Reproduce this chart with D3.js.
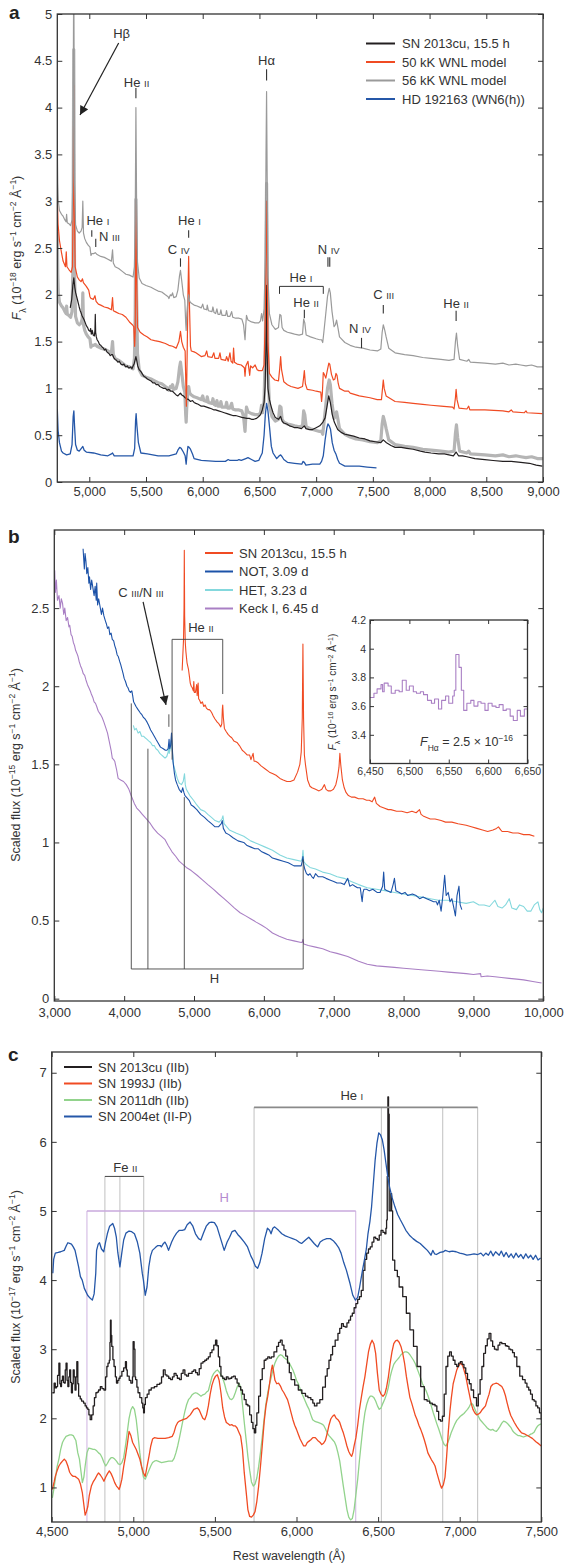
<!DOCTYPE html>
<html>
<head>
<meta charset="utf-8">
<script src="https://cdn.jsdelivr.net/npm/d3@7"></script>
<style>
  body { margin: 0; background: #fff; }
</style>
</head>
<body>
<div id="chart"></div>
<script>
// ---------- panel a : SN 2013cu, 15.5 h vs WNL models ----------
const sn2013cuEarly = [[4832,1.86],[4845,1.95],[4855,2.1],[4864,2.18],[4872,2.08],[4880,2.02],[4895,1.95],[4905,1.9],[4911,1.87],[4920,1.83],[4927,1.81],[4935,1.78],[4943,1.76],[4955,1.73],[4965,1.7],[4974,1.67],[4985,1.65],[4995,1.62],[5006,1.61],[5012,1.64],[5018,1.58],[5026,1.62],[5035,1.57],[5045,1.56],[5050,1.62],[5053,1.79],[5056,1.6],[5062,1.55],[5069,1.52],[5080,1.5],[5090,1.47],[5101,1.46],[5115,1.44],[5125,1.43],[5133,1.41],[5145,1.42],[5155,1.39],[5164,1.38],[5175,1.37],[5185,1.35],[5195,1.36],[5205,1.36],[5215,1.33],[5228,1.31],[5240,1.3],[5252,1.28],[5265,1.29],[5278,1.26],[5291,1.25],[5305,1.26],[5315,1.24],[5323,1.23],[5335,1.24],[5345,1.22],[5354,1.22],[5365,1.23],[5376,1.21],[5386,1.24],[5395,1.26],[5405,1.31],[5411,1.34],[5418,1.3],[5427,1.24],[5440,1.2],[5455,1.18],[5470,1.15],[5481,1.13],[5495,1.12],[5512,1.1],[5528,1.09],[5544,1.08],[5560,1.06],[5576,1.06],[5590,1.04],[5607,1.04],[5622,1.02],[5639,1.01],[5655,1.0],[5671,1.0],[5687,0.98],[5702,0.99],[5718,0.97],[5734,0.97],[5750,0.95],[5766,0.93],[5781,0.92],[5795,0.94],[5804,0.95],[5815,0.93],[5829,0.92],[5845,0.9],[5860,0.89],[5876,0.88],[5892,0.86],[5910,0.87],[5924,0.85],[5940,0.84],[5960,0.83],[5987,0.81],[6010,0.81],[6035,0.8],[6060,0.79],[6082,0.78],[6100,0.77],[6114,0.77],[6140,0.76],[6165,0.75],[6190,0.74],[6215,0.73],[6240,0.72],[6265,0.71],[6290,0.71],[6319,0.7],[6345,0.69],[6367,0.685],[6390,0.68],[6410,0.68],[6430,0.67],[6450,0.67],[6475,0.68],[6494,0.7],[6510,0.72],[6525,0.77],[6541,0.85],[6550,1.02],[6557,1.4],[6563,2.1],[6568,1.4],[6575,1.0],[6588,0.88],[6605,0.8],[6620,0.74],[6640,0.69],[6668,0.67],[6687,0.7],[6700,0.65],[6715,0.63],[6740,0.62],[6765,0.6],[6790,0.59],[6810,0.58],[6840,0.58],[6870,0.57],[6896,0.6],[6910,0.57],[6940,0.56],[6968,0.56],[7000,0.58],[7032,0.6],[7060,0.64],[7079,0.685],[7095,0.8],[7111,0.92],[7125,0.85],[7142,0.72],[7160,0.64],[7190,0.56],[7220,0.53],[7253,0.51],[7290,0.5],[7330,0.49],[7380,0.47],[7430,0.46],[7475,0.44],[7520,0.43],[7570,0.42],[7592,0.45],[7620,0.42],[7660,0.39],[7696,0.37],[7750,0.37],[7800,0.36],[7855,0.35],[7920,0.33],[7960,0.32],[8013,0.31],[8080,0.3],[8130,0.3],[8171,0.29],[8210,0.28],[8234,0.32],[8255,0.28],[8290,0.28],[8329,0.27],[8400,0.25],[8487,0.24],[8560,0.23],[8646,0.22],[8720,0.22],[8804,0.21],[8880,0.2],[8940,0.18],[8994,0.17]];

const wnl56 = [[4718,3.65],[4722,3.2],[4727,3.0],[4737,2.9],[4755,2.86],[4769,2.84],[4785,2.8],[4795,2.78],[4800,2.86],[4806,2.77],[4820,2.76],[4835,2.74],[4848,2.8],[4856,3.3],[4863,5.6],[4870,3.2],[4879,2.75],[4895,2.68],[4911,2.66],[4927,2.68],[4937,2.72],[4943,3.0],[4949,2.66],[4960,2.6],[4974,2.56],[4990,2.53],[5006,2.51],[5015,2.42],[5022,2.44],[5038,2.44],[5053,2.45],[5069,2.43],[5101,2.41],[5133,2.4],[5164,2.38],[5195,2.36],[5205,2.48],[5212,2.34],[5228,2.3],[5259,2.28],[5291,2.25],[5323,2.22],[5354,2.21],[5386,2.19],[5398,2.3],[5405,2.8],[5411,4.0],[5417,3.0],[5425,2.35],[5440,2.18],[5465,2.12],[5500,2.1],[5544,2.08],[5576,2.06],[5607,2.04],[5639,2.03],[5671,2.0],[5695,1.98],[5702,1.96],[5715,2.0],[5725,1.99],[5734,2.02],[5745,1.97],[5766,1.98],[5781,2.05],[5795,2.2],[5804,2.26],[5815,2.15],[5829,2.0],[5842,1.94],[5850,1.7],[5854,1.62],[5860,1.8],[5870,1.95],[5876,2.0],[5885,1.93],[5900,1.91],[5924,1.89],[5950,1.88],[5987,1.86],[6000,1.9],[6010,1.85],[6035,1.84],[6040,1.89],[6050,1.83],[6082,1.82],[6090,1.87],[6100,1.81],[6114,1.8],[6125,1.85],[6135,1.79],[6152,1.79],[6160,1.84],[6170,1.78],[6202,1.78],[6210,1.83],[6220,1.77],[6240,1.77],[6255,1.82],[6265,1.76],[6290,1.75],[6320,1.75],[6345,1.74],[6360,1.68],[6373,1.52],[6380,1.68],[6386,1.78],[6399,1.73],[6430,1.71],[6462,1.7],[6494,1.7],[6509,1.72],[6519,1.8],[6528,1.72],[6541,1.85],[6552,2.4],[6558,3.5],[6563,4.17],[6568,3.3],[6575,2.2],[6588,1.8],[6610,1.68],[6640,1.63],[6668,1.65],[6680,1.79],[6690,1.78],[6700,1.65],[6715,1.62],[6747,1.6],[6778,1.59],[6810,1.58],[6850,1.57],[6880,1.58],[6890,1.74],[6900,1.7],[6912,1.57],[6950,1.55],[7000,1.53],[7030,1.52],[7048,1.52],[7058,1.49],[7068,1.6],[7085,1.8],[7100,1.98],[7115,2.07],[7125,2.02],[7140,1.82],[7158,1.66],[7170,1.68],[7180,1.73],[7192,1.65],[7206,1.55],[7253,1.49],[7300,1.46],[7350,1.44],[7411,1.43],[7475,1.41],[7540,1.4],[7570,1.42],[7582,1.6],[7592,1.68],[7605,1.62],[7617,1.55],[7640,1.43],[7696,1.38],[7780,1.36],[7855,1.35],[7940,1.33],[8013,1.32],[8100,1.31],[8171,1.3],[8216,1.31],[8228,1.5],[8237,1.59],[8248,1.45],[8265,1.31],[8329,1.29],[8345,1.31],[8360,1.28],[8487,1.27],[8580,1.26],[8646,1.27],[8700,1.25],[8760,1.26],[8804,1.25],[8850,1.24],[8900,1.25],[8950,1.23],[9000,1.23]];
// the 56 kK model is shown twice: offset for clarity and scaled under the data
const wnl56Offset = 0.98;

const wnl50 = [[4718,3.05],[4725,2.75],[4737,2.58],[4755,2.45],[4769,2.36],[4790,2.3],[4797,2.46],[4803,2.3],[4820,2.27],[4840,2.24],[4852,2.3],[4858,3.0],[4863,4.24],[4868,3.0],[4875,2.3],[4895,2.19],[4911,2.16],[4927,2.14],[4940,2.17],[4948,2.13],[4974,2.09],[4995,2.05],[5006,1.98],[5015,1.96],[5022,1.96],[5035,1.95],[5050,1.99],[5060,1.93],[5080,1.9],[5101,1.89],[5133,1.87],[5164,1.86],[5195,1.84],[5205,1.97],[5212,1.83],[5228,1.82],[5260,1.8],[5291,1.79],[5323,1.76],[5354,1.71],[5380,1.68],[5392,1.66],[5400,1.45],[5405,1.6],[5411,3.1],[5417,2.2],[5425,1.65],[5449,1.6],[5481,1.57],[5512,1.55],[5544,1.52],[5576,1.51],[5620,1.5],[5671,1.48],[5702,1.46],[5734,1.45],[5766,1.43],[5790,1.5],[5804,1.61],[5815,1.5],[5829,1.44],[5845,1.4],[5852,1.0],[5856,0.81],[5862,1.3],[5870,2.0],[5876,2.41],[5883,1.9],[5892,1.45],[5899,1.4],[5924,1.39],[5940,1.38],[5987,1.34],[6020,1.35],[6035,1.4],[6045,1.34],[6082,1.33],[6098,1.38],[6108,1.32],[6140,1.32],[6152,1.38],[6162,1.31],[6202,1.3],[6210,1.34],[6225,1.29],[6240,1.38],[6250,1.29],[6265,1.27],[6272,1.43],[6280,1.28],[6304,1.26],[6340,1.25],[6367,1.22],[6373,1.13],[6380,1.24],[6399,1.29],[6406,1.22],[6414,1.14],[6422,1.24],[6440,1.22],[6462,1.25],[6480,1.2],[6494,1.19],[6525,1.19],[6541,1.25],[6552,1.8],[6558,2.6],[6563,3.0],[6568,2.4],[6575,1.5],[6588,1.16],[6610,1.12],[6636,1.09],[6668,1.08],[6678,1.2],[6687,1.34],[6695,1.2],[6715,1.07],[6747,1.04],[6778,1.02],[6840,1.0],[6880,1.02],[6890,1.12],[6896,1.19],[6905,1.05],[6921,0.99],[6968,0.98],[7000,0.97],[7041,0.96],[7048,0.86],[7055,0.95],[7063,1.17],[7072,1.15],[7085,1.11],[7100,1.2],[7112,1.27],[7120,1.26],[7135,1.15],[7152,1.09],[7165,1.1],[7175,1.16],[7184,1.14],[7195,1.05],[7206,1.0],[7253,0.97],[7285,0.97],[7300,0.95],[7380,0.92],[7475,0.9],[7538,0.88],[7576,0.88],[7585,1.0],[7592,1.09],[7600,1.0],[7617,0.92],[7696,0.86],[7780,0.85],[7855,0.84],[7940,0.83],[8013,0.82],[8100,0.81],[8203,0.8],[8216,0.78],[8228,0.9],[8234,0.99],[8242,0.88],[8260,0.79],[8329,0.78],[8345,0.81],[8355,0.77],[8487,0.77],[8646,0.76],[8700,0.75],[8720,0.77],[8735,0.75],[8836,0.74],[8850,0.76],[8860,0.74],[8994,0.73]];

const hd192163 = [[4718,0.78],[4725,0.55],[4737,0.42],[4755,0.33],[4769,0.31],[4800,0.29],[4832,0.3],[4848,0.4],[4858,0.7],[4864,0.76],[4870,0.6],[4879,0.4],[4895,0.34],[4911,0.33],[4930,0.36],[4943,0.38],[4955,0.34],[4974,0.32],[5038,0.31],[5101,0.29],[5164,0.28],[5195,0.3],[5205,0.31],[5220,0.28],[5259,0.28],[5323,0.28],[5386,0.28],[5400,0.36],[5408,0.65],[5413,0.73],[5420,0.6],[5433,0.42],[5455,0.31],[5512,0.3],[5607,0.28],[5702,0.28],[5766,0.3],[5781,0.34],[5797,0.37],[5810,0.36],[5829,0.32],[5845,0.28],[5854,0.19],[5862,0.3],[5870,0.38],[5880,0.37],[5892,0.35],[5910,0.3],[5924,0.25],[5987,0.23],[6114,0.22],[6200,0.22],[6225,0.24],[6240,0.23],[6304,0.23],[6319,0.24],[6340,0.23],[6380,0.25],[6399,0.26],[6430,0.24],[6462,0.22],[6494,0.23],[6509,0.27],[6525,0.31],[6541,0.5],[6552,0.72],[6563,0.84],[6575,0.76],[6588,0.6],[6605,0.38],[6620,0.31],[6652,0.25],[6675,0.28],[6687,0.29],[6700,0.27],[6715,0.24],[6747,0.21],[6810,0.2],[6873,0.19],[6885,0.22],[6896,0.21],[6910,0.18],[6968,0.19],[7032,0.19],[7048,0.22],[7063,0.28],[7079,0.45],[7095,0.58],[7104,0.62],[7115,0.6],[7127,0.56],[7142,0.42],[7158,0.34],[7174,0.3],[7190,0.24],[7206,0.2],[7253,0.17],[7300,0.17],[7380,0.17],[7450,0.16],[7532,0.15]];

// ---------- panel b : spectral sequence ----------
const bSN2013cu = [[4830,2.1],[4850,2.3],[4857,2.5],[4861,2.87],[4866,2.45],[4875,2.28],[4884,2.22],[4900,2.15],[4920,2.11],[4935,2.06],[4946,2.02],[4960,2.0],[4975,1.99],[4990,1.97],[4997,2.03],[5005,1.96],[5020,1.96],[5038,2.01],[5045,1.94],[5059,2.02],[5066,1.92],[5080,1.91],[5100,1.89],[5120,1.9],[5140,1.87],[5160,1.88],[5177,1.86],[5200,1.85],[5220,1.85],[5240,1.84],[5254,1.83],[5275,1.81],[5300,1.79],[5332,1.77],[5355,1.76],[5383,1.74],[5398,1.76],[5405,1.85],[5411,1.88],[5420,1.8],[5435,1.73],[5460,1.71],[5490,1.69],[5512,1.68],[5540,1.67],[5570,1.65],[5615,1.64],[5650,1.62],[5690,1.59],[5718,1.58],[5760,1.56],[5795,1.56],[5815,1.53],[5846,1.57],[5860,1.52],[5880,1.52],[5917,1.51],[5960,1.49],[6020,1.47],[6080,1.45],[6130,1.44],[6174,1.43],[6230,1.41],[6277,1.4],[6330,1.39],[6380,1.39],[6431,1.4],[6482,1.45],[6515,1.5],[6535,1.58],[6550,1.8],[6559,2.27],[6568,1.8],[6580,1.56],[6595,1.5],[6626,1.4],[6660,1.36],[6688,1.35],[6740,1.34],[6790,1.33],[6830,1.34],[6867,1.37],[6890,1.34],[6919,1.33],[6960,1.33],[6996,1.34],[7030,1.37],[7055,1.42],[7075,1.48],[7088,1.57],[7100,1.5],[7124,1.4],[7150,1.35],[7176,1.32],[7210,1.3],[7253,1.29],[7300,1.29],[7355,1.28],[7420,1.28],[7470,1.27],[7509,1.27],[7550,1.26],[7586,1.29],[7610,1.25],[7663,1.23],[7720,1.22],[7780,1.21],[7818,1.21],[7900,1.2],[7972,1.2],[8050,1.19],[8120,1.2],[8180,1.19],[8228,1.21],[8250,1.18],[8280,1.17],[8330,1.16],[8382,1.15],[8450,1.15],[8537,1.14],[8600,1.13],[8691,1.13],[8780,1.12],[8896,1.11],[8970,1.1],[9050,1.09],[9130,1.08],[9204,1.07],[9280,1.08],[9330,1.09],[9358,1.1],[9390,1.08],[9410,1.07],[9490,1.07],[9564,1.06],[9640,1.06],[9718,1.05],[9800,1.05],[9872,1.04]];

const notSpec = [[3412,2.88],[3430,2.75],[3440,2.85],[3453,2.8],[3465,2.72],[3480,2.76],[3495,2.66],[3504,2.7],[3520,2.62],[3535,2.68],[3556,2.62],[3570,2.58],[3585,2.64],[3600,2.55],[3607,2.66],[3620,2.52],[3635,2.56],[3659,2.5],[3675,2.46],[3690,2.5],[3710,2.45],[3730,2.42],[3745,2.4],[3762,2.37],[3780,2.38],[3795,2.33],[3813,2.34],[3830,2.3],[3850,2.29],[3865,2.26],[3880,2.24],[3900,2.2],[3916,2.19],[3935,2.16],[3950,2.14],[3968,2.11],[3985,2.08],[4000,2.05],[4019,2.03],[4040,2.0],[4055,1.99],[4071,1.97],[4090,1.96],[4110,1.97],[4122,1.94],[4135,1.9],[4148,1.89],[4170,1.87],[4199,1.85],[4230,1.83],[4250,1.82],[4276,1.8],[4300,1.79],[4328,1.77],[4350,1.75],[4379,1.72],[4405,1.7],[4431,1.68],[4455,1.66],[4482,1.64],[4520,1.61],[4560,1.6],[4590,1.59],[4611,1.59],[4630,1.6],[4643,1.66],[4652,1.6],[4665,1.62],[4678,1.7],[4690,1.6],[4699,1.52],[4720,1.44],[4736,1.4],[4760,1.37],[4787,1.34],[4820,1.32],[4839,1.35],[4855,1.32],[4870,1.3],[4890,1.29],[4930,1.27],[4960,1.24],[4993,1.23],[5040,1.21],[5095,1.18],[5150,1.16],[5198,1.14],[5250,1.12],[5301,1.1],[5350,1.1],[5390,1.12],[5404,1.14],[5420,1.09],[5455,1.06],[5500,1.05],[5558,1.03],[5630,1.01],[5712,1.0],[5760,0.98],[5815,0.97],[5870,0.96],[5917,0.96],[5970,0.94],[6020,0.93],[6070,0.92],[6123,0.9],[6200,0.89],[6277,0.88],[6350,0.87],[6431,0.85],[6500,0.85],[6534,0.85],[6550,0.88],[6559,0.91],[6570,0.86],[6585,0.83],[6610,0.8],[6636,0.79],[6660,0.8],[6688,0.78],[6710,0.77],[6739,0.8],[6780,0.78],[6842,0.78],[6890,0.77],[6944,0.76],[7000,0.75],[7047,0.74],[7100,0.74],[7150,0.73],[7201,0.77],[7230,0.72],[7270,0.73],[7304,0.72],[7340,0.71],[7380,0.71],[7395,0.66],[7407,0.62],[7420,0.68],[7432,0.7],[7470,0.7],[7509,0.69],[7560,0.7],[7620,0.68],[7663,0.68],[7700,0.72],[7715,0.81],[7730,0.7],[7766,0.69],[7820,0.68],[7850,0.73],[7869,0.77],[7890,0.69],[7940,0.68],[7972,0.67],[8020,0.68],[8060,0.66],[8126,0.67],[8180,0.66],[8230,0.64],[8280,0.65],[8330,0.64],[8382,0.63],[8430,0.62],[8470,0.62],[8485,0.6],[8510,0.63],[8537,0.56],[8560,0.65],[8588,0.79],[8610,0.66],[8639,0.68],[8665,0.62],[8691,0.64],[8715,0.59],[8742,0.53],[8765,0.66],[8793,0.72],[8810,0.6],[8834,0.57]];

const hetSpec = [[4132,1.75],[4150,1.72],[4173,1.73],[4200,1.7],[4225,1.71],[4250,1.68],[4276,1.68],[4300,1.67],[4328,1.66],[4350,1.65],[4379,1.64],[4405,1.62],[4431,1.62],[4455,1.6],[4482,1.59],[4510,1.57],[4534,1.56],[4560,1.55],[4585,1.54],[4610,1.55],[4630,1.58],[4637,1.62],[4645,1.57],[4660,1.6],[4670,1.65],[4678,1.66],[4690,1.58],[4705,1.5],[4736,1.45],[4760,1.41],[4787,1.38],[4820,1.37],[4845,1.39],[4864,1.44],[4875,1.37],[4890,1.34],[4940,1.3],[4993,1.27],[5040,1.24],[5095,1.21],[5150,1.2],[5198,1.18],[5250,1.16],[5301,1.14],[5360,1.13],[5400,1.15],[5414,1.17],[5430,1.12],[5506,1.08],[5600,1.06],[5712,1.04],[5810,1.01],[5917,0.99],[6020,0.97],[6123,0.95],[6230,0.92],[6328,0.9],[6430,0.89],[6534,0.88],[6550,0.9],[6560,0.95],[6570,0.88],[6600,0.86],[6660,0.84],[6739,0.83],[6840,0.81],[6944,0.8],[7050,0.78],[7150,0.77],[7250,0.75],[7355,0.73],[7480,0.71],[7612,0.7],[7750,0.69],[7870,0.68],[8000,0.67],[8126,0.66],[8260,0.65],[8382,0.64],[8500,0.63],[8639,0.63],[8760,0.62],[8896,0.61],[8999,0.62],[9080,0.6],[9153,0.6],[9230,0.59],[9307,0.63],[9350,0.59],[9410,0.58],[9460,0.6],[9512,0.64],[9550,0.58],[9615,0.57],[9660,0.6],[9718,0.59],[9770,0.56],[9821,0.56],[9870,0.6],[9923,0.62],[9950,0.57],[9975,0.55],[10000,0.58]];

const keckSpec = [[3000,2.45],[3006,2.74],[3015,2.6],[3030,2.68],[3045,2.55],[3067,2.58],[3085,2.5],[3100,2.56],[3118,2.53],[3135,2.46],[3150,2.5],[3170,2.42],[3190,2.44],[3210,2.38],[3221,2.39],[3240,2.33],[3255,2.32],[3273,2.28],[3290,2.26],[3305,2.23],[3324,2.21],[3340,2.19],[3355,2.16],[3376,2.13],[3395,2.11],[3415,2.08],[3435,2.07],[3453,2.04],[3475,2.01],[3495,1.99],[3515,1.97],[3530,1.95],[3550,1.93],[3570,1.9],[3590,1.89],[3607,1.87],[3630,1.84],[3660,1.82],[3685,1.8],[3710,1.77],[3740,1.73],[3762,1.7],[3785,1.65],[3813,1.59],[3830,1.54],[3850,1.53],[3865,1.52],[3890,1.47],[3914,1.41],[3950,1.4],[3991,1.39],[4030,1.37],[4068,1.34],[4100,1.3],[4145,1.25],[4180,1.22],[4222,1.2],[4260,1.18],[4299,1.16],[4340,1.14],[4376,1.12],[4420,1.09],[4479,1.06],[4530,1.04],[4582,1.02],[4630,0.98],[4685,0.94],[4740,0.91],[4787,0.88],[4840,0.86],[4890,0.84],[4960,0.82],[5044,0.79],[5120,0.76],[5198,0.73],[5280,0.7],[5352,0.67],[5430,0.64],[5506,0.61],[5580,0.58],[5660,0.55],[5740,0.53],[5815,0.51],[5890,0.49],[5969,0.47],[6040,0.45],[6123,0.42],[6220,0.4],[6328,0.38],[6430,0.37],[6534,0.36],[6548,0.36],[6559,0.38],[6570,0.35],[6636,0.34],[6740,0.33],[6842,0.32],[6950,0.3],[7047,0.29],[7200,0.27],[7355,0.24],[7480,0.22],[7612,0.21],[7740,0.205],[7869,0.2],[8000,0.195],[8126,0.19],[8250,0.185],[8382,0.18],[8510,0.175],[8639,0.17],[8770,0.165],[8896,0.16],[9000,0.155],[9102,0.16],[9110,0.14],[9200,0.145],[9307,0.14],[9400,0.135],[9512,0.13],[9620,0.125],[9718,0.12],[9850,0.11],[9975,0.1]];

// inset: Keck spectrum around H-alpha (10^-16 units)
const keckHalpha = [[6450,3.66],[6455,3.69],[6459,3.72],[6464,3.75],[6466,3.7],[6468,3.76],[6473,3.74],[6477,3.69],[6482,3.71],[6487,3.7],[6491,3.78],[6496,3.71],[6500,3.74],[6505,3.7],[6509,3.69],[6514,3.7],[6518,3.68],[6523,3.64],[6528,3.62],[6532,3.65],[6537,3.58],[6541,3.64],[6546,3.67],[6550,3.62],[6555,3.67],[6557,3.71],[6559,3.96],[6563,3.87],[6566,3.71],[6569,3.57],[6573,3.62],[6578,3.64],[6582,3.6],[6587,3.63],[6591,3.62],[6596,3.57],[6600,3.62],[6605,3.6],[6610,3.59],[6614,3.61],[6619,3.57],[6623,3.58],[6628,3.53],[6632,3.5],[6637,3.57],[6641,3.53],[6646,3.58],[6650,3.53]];

// ---------- panel c : comparison with type II SNe ----------
const cSN2013cu = [[4504,2.37],[4515,2.51],[4522,2.44],[4529,2.46],[4536,2.62],[4544,2.8],[4550,2.5],[4555,2.46],[4560,2.55],[4566,2.61],[4572,2.52],[4577,2.51],[4583,2.7],[4588,2.8],[4594,2.55],[4599,2.46],[4605,2.6],[4610,2.7],[4616,2.52],[4621,2.37],[4627,2.5],[4632,2.7],[4638,2.6],[4643,2.41],[4649,2.6],[4654,2.82],[4660,2.5],[4665,2.32],[4675,2.28],[4683,2.25],[4695,2.22],[4705,2.18],[4713,2.15],[4721,2.13],[4728,2.05],[4736,1.98],[4745,2.05],[4754,2.18],[4762,2.3],[4771,2.37],[4779,2.38],[4787,2.41],[4798,2.46],[4808,2.43],[4820,2.41],[4830,2.6],[4838,2.75],[4845,2.8],[4853,2.84],[4857,3.1],[4860,3.42],[4864,3.2],[4868,3.04],[4875,2.85],[4882,2.75],[4890,2.6],[4897,2.51],[4905,2.55],[4912,2.58],[4919,2.61],[4930,2.68],[4941,2.73],[4952,2.82],[4958,2.7],[4963,2.61],[4975,2.55],[4985,2.51],[4995,2.6],[4999,3.11],[5005,3.0],[5010,2.6],[5014,2.56],[5022,2.45],[5029,2.37],[5040,2.3],[5052,2.22],[5058,2.15],[5063,2.08],[5068,2.2],[5074,2.3],[5085,2.35],[5096,2.41],[5110,2.44],[5129,2.46],[5145,2.49],[5162,2.51],[5173,2.6],[5184,2.7],[5195,2.63],[5206,2.61],[5217,2.58],[5228,2.56],[5240,2.6],[5250,2.65],[5262,2.62],[5270,2.58],[5283,2.56],[5294,2.65],[5305,2.7],[5316,2.63],[5327,2.61],[5338,2.65],[5349,2.65],[5360,2.68],[5371,2.7],[5382,2.66],[5393,2.63],[5404,2.72],[5415,2.8],[5427,2.82],[5438,2.84],[5449,2.86],[5460,2.89],[5471,2.95],[5482,2.99],[5493,3.06],[5504,3.13],[5512,3.05],[5521,2.89],[5529,2.75],[5537,2.61],[5548,2.58],[5559,2.56],[5570,2.6],[5581,2.57],[5592,2.58],[5603,2.6],[5614,2.61],[5625,2.57],[5636,2.51],[5647,2.46],[5658,2.41],[5669,2.35],[5680,2.27],[5691,2.2],[5702,2.18],[5713,2.05],[5724,1.94],[5733,1.85],[5742,1.79],[5750,1.9],[5757,2.08],[5768,2.32],[5779,2.56],[5790,2.72],[5802,2.84],[5813,2.86],[5824,2.89],[5835,2.87],[5846,2.89],[5862,2.96],[5879,3.04],[5890,3.1],[5901,3.13],[5912,3.06],[5923,2.99],[5934,2.9],[5945,2.8],[5956,2.66],[5967,2.56],[5989,2.48],[6011,2.41],[6033,2.36],[6055,2.32],[6070,2.3],[6088,2.27],[6100,2.22],[6110,2.18],[6125,2.22],[6143,2.27],[6160,2.45],[6177,2.61],[6188,2.72],[6199,2.84],[6210,2.92],[6221,3.04],[6237,3.13],[6254,3.23],[6265,3.3],[6276,3.37],[6287,3.33],[6298,3.32],[6309,3.38],[6320,3.42],[6331,3.48],[6342,3.52],[6353,3.6],[6364,3.66],[6375,3.72],[6386,3.76],[6397,3.85],[6408,4.14],[6419,4.3],[6430,4.39],[6441,4.45],[6452,4.48],[6463,4.55],[6474,4.62],[6485,4.6],[6496,4.58],[6507,4.65],[6518,4.72],[6530,4.69],[6541,4.67],[6548,4.75],[6552,4.87],[6556,5.5],[6560,6.65],[6564,6.4],[6568,5.0],[6574,5.0],[6578,5.25],[6583,5.0],[6589,4.29],[6602,4.14],[6618,4.05],[6629,3.9],[6651,3.76],[6673,3.52],[6695,3.28],[6717,3.04],[6739,2.75],[6761,2.46],[6783,2.27],[6800,2.25],[6816,2.22],[6832,2.2],[6849,2.18],[6860,2.1],[6871,1.98],[6882,1.96],[6894,2.03],[6905,2.35],[6916,2.75],[6927,2.9],[6938,2.96],[6949,2.9],[6960,2.84],[6971,2.78],[6982,2.75],[6993,2.8],[7004,2.82],[7015,2.78],[7026,2.73],[7037,2.65],[7048,2.56],[7059,2.5],[7070,2.41],[7085,2.3],[7103,2.18],[7114,2.35],[7125,2.56],[7136,2.75],[7147,2.94],[7158,3.05],[7169,3.15],[7180,3.23],[7191,3.12],[7202,3.04],[7213,3.0],[7224,2.99],[7235,3.06],[7246,3.1],[7258,3.08],[7269,3.08],[7280,3.05],[7291,3.04],[7302,3.0],[7313,2.99],[7324,2.95],[7335,2.89],[7350,2.75],[7368,2.61],[7385,2.56],[7401,2.51],[7412,2.45],[7423,2.41],[7434,2.35],[7445,2.27],[7456,2.25],[7467,2.18],[7478,2.15],[7489,2.08],[7500,1.98]];

const sn1993J = [[4504,0.97],[4515,1.08],[4522,1.16],[4533,1.24],[4544,1.31],[4555,1.35],[4566,1.38],[4577,1.41],[4588,1.38],[4599,1.31],[4610,1.22],[4621,1.18],[4632,1.16],[4643,1.16],[4654,1.14],[4665,1.12],[4676,1.05],[4688,0.92],[4697,0.75],[4705,0.6],[4713,0.65],[4721,0.72],[4730,0.88],[4743,1.02],[4754,1.08],[4765,1.12],[4776,1.17],[4787,1.21],[4798,1.18],[4809,1.14],[4820,1.09],[4831,1.15],[4842,1.2],[4853,1.24],[4864,1.2],[4875,1.14],[4886,1.07],[4897,1.02],[4908,0.99],[4913,0.97],[4920,1.02],[4930,1.12],[4941,1.3],[4952,1.45],[4963,1.62],[4974,1.81],[4985,1.75],[4996,1.65],[5007,1.6],[5018,1.55],[5029,1.48],[5040,1.41],[5051,1.3],[5062,1.21],[5073,1.16],[5084,1.3],[5096,1.45],[5107,1.6],[5118,1.7],[5129,1.72],[5151,1.71],[5173,1.71],[5195,1.71],[5217,1.72],[5239,1.74],[5250,1.8],[5261,1.89],[5272,1.94],[5283,1.96],[5305,1.98],[5327,2.0],[5349,2.05],[5371,2.13],[5393,2.15],[5404,2.12],[5415,2.06],[5426,2.0],[5438,1.98],[5449,2.05],[5460,2.18],[5471,2.35],[5482,2.48],[5493,2.56],[5504,2.61],[5515,2.63],[5526,2.55],[5537,2.37],[5548,2.15],[5559,2.02],[5570,1.94],[5581,1.92],[5592,1.9],[5603,1.91],[5614,1.89],[5625,1.89],[5636,1.86],[5647,1.8],[5658,1.74],[5669,1.55],[5680,1.21],[5691,0.95],[5702,0.68],[5713,0.58],[5724,0.57],[5735,0.6],[5746,0.65],[5757,0.8],[5768,1.02],[5779,1.3],[5790,1.6],[5802,1.95],[5813,2.18],[5824,2.32],[5835,2.5],[5846,2.7],[5852,2.77],[5858,2.7],[5868,2.55],[5879,2.5],[5890,2.51],[5901,2.47],[5912,2.41],[5923,2.37],[5934,2.32],[5945,2.27],[5956,2.18],[5967,2.08],[5978,1.98],[5989,1.9],[6000,1.84],[6011,1.77],[6022,1.7],[6033,1.65],[6044,1.6],[6055,1.6],[6066,1.65],[6077,1.67],[6088,1.69],[6100,1.72],[6115,1.72],[6130,1.68],[6145,1.65],[6155,1.62],[6166,1.64],[6177,1.68],[6188,1.78],[6199,1.9],[6210,1.99],[6221,2.03],[6232,2.05],[6243,2.0],[6254,1.98],[6265,1.94],[6276,1.86],[6287,1.79],[6298,1.7],[6309,1.6],[6320,1.52],[6331,1.47],[6338,1.45],[6345,1.5],[6353,1.6],[6364,1.72],[6375,1.9],[6386,2.13],[6397,2.3],[6408,2.46],[6419,2.6],[6430,2.78],[6441,2.96],[6452,3.07],[6463,3.13],[6474,3.08],[6485,2.94],[6496,2.65],[6507,2.41],[6518,2.35],[6530,2.32],[6541,2.35],[6552,2.45],[6563,2.6],[6574,2.8],[6585,2.96],[6596,3.08],[6607,3.12],[6618,3.13],[6629,3.1],[6640,3.04],[6651,2.94],[6662,2.8],[6673,2.61],[6684,2.45],[6695,2.3],[6706,2.22],[6717,2.13],[6728,2.04],[6739,1.98],[6750,1.9],[6761,1.84],[6772,1.77],[6783,1.69],[6794,1.6],[6805,1.5],[6816,1.45],[6827,1.4],[6838,1.36],[6849,1.31],[6860,1.21],[6871,1.12],[6882,1.03],[6889,0.99],[6900,1.04],[6910,1.15],[6920,1.45],[6930,1.8],[6940,2.1],[6949,2.3],[6960,2.5],[6971,2.6],[6982,2.7],[6993,2.76],[7008,2.8],[7020,2.75],[7037,2.61],[7050,2.45],[7059,2.35],[7070,2.22],[7081,2.13],[7092,2.08],[7103,2.05],[7114,2.06],[7125,2.08],[7136,2.12],[7147,2.15],[7158,2.18],[7169,2.27],[7180,2.35],[7191,2.46],[7202,2.49],[7213,2.5],[7224,2.51],[7235,2.5],[7246,2.48],[7258,2.46],[7269,2.41],[7280,2.33],[7291,2.22],[7302,2.12],[7313,2.04],[7324,1.99],[7335,1.94],[7350,1.88],[7368,1.82],[7379,1.79],[7401,1.77],[7423,1.74],[7445,1.71],[7467,1.66],[7485,1.63],[7500,1.6]];

const sn2011dh = [[4504,0.85],[4515,1.0],[4522,1.12],[4533,1.3],[4544,1.41],[4555,1.55],[4566,1.65],[4577,1.7],[4588,1.74],[4599,1.75],[4610,1.76],[4621,1.76],[4632,1.75],[4648,1.68],[4660,1.5],[4670,1.41],[4680,1.22],[4688,1.07],[4697,1.15],[4705,1.31],[4716,1.5],[4727,1.57],[4740,1.56],[4754,1.55],[4765,1.55],[4776,1.53],[4787,1.5],[4798,1.48],[4809,1.43],[4820,1.36],[4831,1.31],[4842,1.35],[4853,1.4],[4864,1.43],[4875,1.43],[4886,1.41],[4897,1.38],[4908,1.34],[4920,1.33],[4930,1.36],[4941,1.43],[4952,1.6],[4963,1.8],[4974,2.0],[4985,2.12],[4996,2.17],[5007,2.13],[5018,1.98],[5029,1.75],[5040,1.5],[5051,1.3],[5062,1.15],[5073,1.12],[5084,1.18],[5096,1.25],[5107,1.31],[5118,1.36],[5129,1.38],[5140,1.39],[5151,1.38],[5173,1.36],[5195,1.37],[5217,1.38],[5239,1.38],[5250,1.42],[5261,1.5],[5272,1.6],[5283,1.72],[5294,1.85],[5305,1.98],[5316,2.1],[5327,2.2],[5338,2.27],[5349,2.3],[5360,2.34],[5371,2.36],[5382,2.37],[5393,2.36],[5404,2.34],[5415,2.32],[5426,2.34],[5438,2.35],[5449,2.38],[5460,2.4],[5471,2.5],[5482,2.6],[5493,2.65],[5504,2.68],[5515,2.7],[5526,2.67],[5537,2.63],[5548,2.58],[5559,2.5],[5570,2.4],[5581,2.33],[5592,2.28],[5603,2.27],[5614,2.3],[5625,2.37],[5636,2.45],[5647,2.51],[5658,2.45],[5669,2.2],[5680,1.94],[5691,1.7],[5702,1.45],[5713,1.25],[5724,1.08],[5735,1.02],[5746,1.05],[5757,1.14],[5768,1.3],[5779,1.5],[5790,1.73],[5801,1.98],[5812,2.2],[5824,2.37],[5835,2.5],[5846,2.6],[5857,2.72],[5868,2.8],[5879,2.86],[5890,2.9],[5901,2.92],[5912,2.91],[5923,2.88],[5934,2.86],[5945,2.84],[5956,2.8],[5967,2.75],[5978,2.7],[5989,2.63],[6000,2.55],[6011,2.5],[6022,2.43],[6033,2.36],[6044,2.3],[6055,2.24],[6066,2.18],[6077,2.13],[6088,2.05],[6099,1.98],[6110,1.96],[6121,1.95],[6132,1.94],[6143,1.93],[6154,1.92],[6166,1.9],[6177,1.85],[6188,1.79],[6199,1.75],[6210,1.72],[6221,1.69],[6232,1.66],[6243,1.6],[6254,1.5],[6265,1.38],[6276,1.2],[6287,1.02],[6298,0.85],[6309,0.68],[6320,0.57],[6331,0.53],[6342,0.55],[6353,0.68],[6364,0.9],[6375,1.12],[6386,1.4],[6397,1.65],[6408,1.89],[6419,2.08],[6430,2.2],[6441,2.28],[6452,2.32],[6463,2.32],[6474,2.3],[6485,2.25],[6496,2.18],[6507,2.13],[6518,2.15],[6530,2.22],[6541,2.28],[6552,2.35],[6563,2.45],[6574,2.6],[6585,2.7],[6596,2.78],[6607,2.82],[6618,2.85],[6629,2.88],[6640,2.92],[6651,2.94],[6662,2.96],[6673,2.96],[6684,2.95],[6695,2.92],[6706,2.88],[6717,2.84],[6728,2.79],[6739,2.72],[6750,2.65],[6761,2.58],[6772,2.5],[6783,2.45],[6794,2.4],[6805,2.33],[6816,2.25],[6827,2.17],[6838,2.08],[6849,2.0],[6860,1.92],[6871,1.85],[6882,1.77],[6894,1.68],[6905,1.62],[6916,1.6],[6927,1.65],[6938,1.72],[6949,1.8],[6960,1.86],[6971,1.92],[6982,1.97],[6993,2.0],[7004,2.03],[7015,2.05],[7026,2.07],[7037,2.1],[7048,2.13],[7059,2.17],[7070,2.22],[7081,2.2],[7092,2.14],[7103,2.08],[7114,2.03],[7125,1.98],[7136,1.95],[7147,1.92],[7158,1.89],[7169,1.86],[7180,1.84],[7191,1.83],[7202,1.84],[7213,1.82],[7224,1.81],[7235,1.84],[7246,1.88],[7258,1.93],[7269,1.96],[7280,1.95],[7291,1.93],[7302,1.9],[7313,1.87],[7324,1.82],[7335,1.79],[7346,1.77],[7357,1.75],[7368,1.75],[7379,1.74],[7390,1.73],[7401,1.74],[7412,1.75],[7423,1.75],[7434,1.77],[7445,1.78],[7456,1.8],[7467,1.85],[7478,1.89],[7489,1.91],[7500,1.92]];

const sn2004et = [[4507,4.1],[4512,4.3],[4522,4.39],[4540,4.4],[4555,4.41],[4577,4.43],[4590,4.5],[4599,4.54],[4610,4.53],[4621,4.52],[4632,4.48],[4643,4.43],[4655,4.3],[4665,4.19],[4676,4.05],[4687,4.0],[4700,3.88],[4720,3.78],[4735,3.74],[4749,3.71],[4760,3.8],[4770,4.1],[4775,4.43],[4785,4.52],[4793,4.54],[4805,4.45],[4819,4.41],[4830,4.55],[4841,4.67],[4855,4.78],[4874,4.82],[4885,4.75],[4896,4.62],[4905,4.4],[4918,4.19],[4930,4.4],[4941,4.58],[4955,4.68],[4974,4.71],[4990,4.7],[5007,4.67],[5025,4.55],[5040,4.39],[5055,4.1],[5062,4.0],[5073,3.78],[5084,3.9],[5095,4.19],[5106,4.35],[5117,4.43],[5135,4.47],[5150,4.5],[5165,4.5],[5172,4.48],[5185,4.53],[5194,4.55],[5205,4.5],[5216,4.43],[5235,4.55],[5249,4.62],[5265,4.68],[5282,4.72],[5300,4.72],[5315,4.73],[5330,4.8],[5348,4.84],[5365,4.78],[5381,4.67],[5400,4.6],[5414,4.58],[5430,4.68],[5447,4.78],[5465,4.83],[5480,4.84],[5497,4.83],[5513,4.77],[5535,4.6],[5557,4.43],[5575,4.55],[5590,4.62],[5605,4.7],[5623,4.72],[5640,4.66],[5656,4.62],[5680,4.55],[5700,4.48],[5720,4.35],[5733,4.29],[5748,4.2],[5762,4.17],[5775,4.25],[5789,4.39],[5805,4.6],[5822,4.75],[5835,4.72],[5844,4.67],[5855,4.75],[5866,4.77],[5890,4.72],[5910,4.67],[5932,4.64],[5954,4.62],[5976,4.6],[5998,4.58],[6015,4.55],[6031,4.53],[6055,4.58],[6075,4.62],[6090,4.58],[6108,4.53],[6120,4.5],[6130,4.48],[6145,4.55],[6163,4.58],[6185,4.6],[6207,4.6],[6225,4.57],[6240,4.53],[6258,4.47],[6273,4.39],[6290,4.25],[6306,4.14],[6320,4.02],[6328,3.95],[6345,3.78],[6361,3.71],[6375,3.75],[6387,3.9],[6394,4.0],[6405,4.15],[6416,4.29],[6428,4.45],[6438,4.67],[6450,4.85],[6460,5.06],[6471,5.4],[6482,5.74],[6493,5.98],[6504,6.13],[6515,6.1],[6526,6.03],[6537,5.88],[6548,5.69],[6559,5.5],[6570,5.35],[6585,5.2],[6603,5.06],[6620,4.95],[6637,4.87],[6655,4.79],[6670,4.72],[6692,4.65],[6714,4.6],[6736,4.56],[6758,4.53],[6780,4.48],[6802,4.43],[6815,4.39],[6824,4.36],[6835,4.43],[6846,4.38],[6857,4.37],[6880,4.4],[6900,4.41],[6912,4.43],[6935,4.41],[6955,4.42],[6978,4.41],[7000,4.39],[7022,4.38],[7044,4.36],[7066,4.37],[7088,4.38],[7110,4.37],[7130,4.39],[7145,4.35],[7160,4.39],[7176,4.36],[7190,4.42],[7205,4.35],[7220,4.41],[7242,4.36],[7255,4.42],[7270,4.34],[7285,4.4],[7300,4.33],[7315,4.38],[7330,4.32],[7345,4.39],[7360,4.33],[7375,4.37],[7390,4.31],[7405,4.38],[7420,4.32],[7435,4.36],[7450,4.3],[7465,4.36],[7480,4.29],[7496,4.32]];

// tick values
const aXTicks = [5000,5500,6000,6500,7000,7500,8000,8500,9000];
const aYTicks = [0,0.5,1,1.5,2,2.5,3,3.5,4,4.5,5];
const bXTicks = [3000,4000,5000,6000,7000,8000,9000,10000];
const bYTicks = [0,0.5,1,1.5,2,2.5];
const insetXTicks = [6450,6500,6550,6600,6650];
const insetYTicks = [3.4,3.6,3.8,4,4.2];
const cXTicks = [4500,5000,5500,6000,6500,7000,7500];
const cYTicks = [1,2,3,4,5,6,7];

// ---------- drawing ----------
const FONT = '"Liberation Sans", Arial, Helvetica, sans-serif';
const INK = "#333";
const C = { black: "#231f20", red: "#f04b23", grey: "#9a9a9a", greyUnder: "#b5b5b5",
  blue: "#2557a8", navy: "#1c52a8", cyan: "#84d8dd", purple: "#a97fc4", green: "#92d38c", lav: "#c9a9dc" };

const svg = d3.select("#chart").append("svg")
  .attr("width", 564).attr("height", 1564)
  .style("font-family", FONT);

const defs = svg.append("defs");
defs.append("marker").attr("id", "arrow")
  .attr("viewBox", "0 0 10 10").attr("refX", 10).attr("refY", 5)
  .attr("markerUnits", "userSpaceOnUse").attr("markerWidth", 10).attr("markerHeight", 9)
  .attr("orient", "auto")
  .append("path").attr("d", "M0,0L10,5L0,10z").attr("fill", "#222");

function makePanel(id, xDomain, yDomain, box) {
  const x = d3.scaleLinear().domain(xDomain).range([box.left, box.right]);
  const y = d3.scaleLinear().domain(yDomain).range([box.bottom, box.top]);
  defs.append("clipPath").attr("id", "clip-" + id).append("rect")
    .attr("x", box.left).attr("y", box.top)
    .attr("width", box.right - box.left).attr("height", box.bottom - box.top);
  const g = svg.append("g");
  const plot = g.append("g").attr("clip-path", `url(#clip-${id})`);
  return { x, y, g, plot, box };
}

function drawAxes(p, xTicks, yTicks, size, tick, pad, xPad) {
  const b = p.box;
  const list = [
    [d3.axisBottom(p.x).tickFormat(d3.format(",")), `translate(0,${b.bottom})`, xTicks, xPad || pad],
    [d3.axisTop(p.x).tickFormat(""), `translate(0,${b.top})`, xTicks, pad],
    [d3.axisLeft(p.y).tickFormat(d3.format("~g")), `translate(${b.left},0)`, yTicks, pad],
    [d3.axisRight(p.y).tickFormat(""), `translate(${b.right},0)`, yTicks, pad]
  ];
  list.forEach(([axis, t, ticks, pd]) => {
    const s = p.g.append("g").attr("transform", t)
      .call(axis.tickValues(ticks).tickSize(-tick).tickPadding(pd));
    s.select(".domain").remove();
    s.selectAll("line").attr("stroke", INK).attr("stroke-width", 1);
    s.selectAll("text").attr("fill", INK).attr("font-size", size).attr("font-family", FONT);
  });
  p.g.append("rect")
    .attr("x", b.left).attr("y", b.top)
    .attr("width", b.right - b.left).attr("height", b.bottom - b.top)
    .attr("fill", "none").attr("stroke", INK).attr("stroke-width", 1.3);
}

function spectrum(p, data, color, width, curve, shift) {
  const dy = shift || 0;
  p.plot.append("path").datum(data)
    .attr("fill", "none").attr("stroke", color).attr("stroke-width", width)
    .attr("stroke-linejoin", "round")
    .attr("d", d3.line().x(d => p.x(d[0])).y(d => p.y(d[1] - dy)).curve(curve || d3.curveLinear));
}

// rich text: parts = [text, size, kind]
function rich(sel, x, y, parts, opt) {
  opt = opt || {};
  const t = sel.append("text").attr("x", x).attr("y", y)
    .attr("font-family", FONT).attr("fill", opt.fill || INK)
    .attr("text-anchor", opt.anchor || "middle");
  if (opt.rotate) t.attr("transform", `rotate(-90,${x},${y})`);
  parts.forEach(([s, size, kind]) => {
    const ts = t.append("tspan").attr("font-size", size).text(s);
    if (kind === "sup") ts.attr("baseline-shift", "super");
    if (kind === "sub") ts.attr("baseline-shift", "sub");
    if (kind === "it") ts.attr("font-style", "italic");
  });
  return t;
}

function seg(sel, x1, y1, x2, y2, color, w) {
  return sel.append("line").attr("x1", x1).attr("y1", y1).attr("x2", x2).attr("y2", y2)
    .attr("stroke", color || INK).attr("stroke-width", w || 1);
}

function legend(sel, entries, x0, x1, xt, ys, size) {
  entries.forEach(([name, color], i) => {
    seg(sel, x0, ys[i], x1, ys[i], color, 2);
    sel.append("text").attr("x", xt).attr("y", ys[i]).attr("dy", "0.35em")
      .attr("font-size", size).attr("fill", INK).text(name);
  });
}

function unitLabel(exp, size, small) {
  return [[" (10", size], ["−" + exp, small, "sup"], [" erg s", size], ["−1", small, "sup"],
    [" cm", size], ["−2", small, "sup"], [" Å", size], ["−1", small, "sup"], [")", size]];
}

const R = 9.5; // size of small-cap roman numerals
const L = 13;  // label size

// ===== panel a =====
const pa = makePanel("a", [4718, 9000], [0, 5], { left: 57.3, right: 543, top: 14, bottom: 482 });
spectrum(pa, wnl56, C.greyUnder, 3.2, null, wnl56Offset);
spectrum(pa, sn2013cuEarly, C.black, 1.2);
spectrum(pa, wnl50, C.red, 1.2);
spectrum(pa, wnl56, C.grey, 1.2);
spectrum(pa, hd192163, C.blue, 1.3);
drawAxes(pa, aXTicks, aYTicks, 13, 5, 5);

{
  const g = pa.g, x = pa.x, y = pa.y;
  rich(g, x(5285), y(4.80), [["Hβ", L]]).attr("dy", "0.35em");
  g.append("line").attr("x1", x(5259)).attr("y1", y(4.69)).attr("x2", x(4918)).attr("y2", y(3.92))
    .attr("stroke", "#222").attr("stroke-width", 1.2).attr("marker-end", "url(#arrow)");
  const marks = [
    // [label parts, labelλ, labelV, [[tickλ, v1, v2], ...]]
    [[["He ", L], ["II", R]], 5417, 4.28, [[5411, 4.21, 4.10]]],
    [[["Hα", L]], 6563, 4.51, [[6563, 4.41, 4.29]]],
    [[["He ", L], ["I", R]], 5076, 2.81, [[5022, 2.69, 2.62]]],
    [[["N ", L], ["III", R]], 5178, 2.63, [[5057, 2.60, 2.51]]],
    [[["C ", L], ["IV", R]], 5788, 2.50, [[5804, 2.39, 2.30]]],
    [[["He ", L], ["I", R]], 5883, 2.81, [[5876, 2.69, 2.61]]],
    [[["N ", L], ["IV", R]], 7110, 2.50, [[7104, 2.40, 2.30], [7120, 2.40, 2.30]]],
    [[["He ", L], ["II", R]], 6911, 1.93, [[6896, 1.84, 1.75]]],
    [[["N ", L], ["IV", R]], 7386, 1.65, [[7400, 1.54, 1.43]]],
    [[["C ", L], ["III", R]], 7595, 2.02, [[7592, 1.89, 1.80]]],
    [[["He ", L], ["II", R]], 8234, 1.92, [[8234, 1.83, 1.72]]]
  ];
  marks.forEach(([parts, lx, lv, ticks]) => {
    rich(g, x(lx), y(lv), parts).attr("dy", "0.35em");
    ticks.forEach(([tx, v1, v2]) => seg(g, x(tx), y(v1), x(tx), y(v2), INK, 1.1));
  });
  // He I bracket
  rich(g, x(6867), y(2.20), [["He ", L], ["I", R]]).attr("dy", "0.35em");
  g.append("path").attr("fill", "none").attr("stroke", INK).attr("stroke-width", 1)
    .attr("d", `M${x(6677)},${y(2.01)}V${y(2.09)}H${x(7063)}V${y(2.01)}`);

  legend(g, [["SN 2013cu, 15.5 h", C.black], ["50 kK WNL model", C.red],
    ["56 kK WNL model", C.grey], ["HD 192163 (WN6(h))", C.blue]],
    366, 395, 402, [43.5, 62, 80.5, 99], 13);

  rich(svg, 21, 248, [["F", 12.5, "it"], ["λ", 9, "sub"]].concat(unitLabel(18, 12.5, 8.5)), { rotate: true });
  svg.append("text").attr("x", 9).attr("y", 19).attr("font-size", 19).attr("font-weight", "bold")
    .attr("fill", "#222").text("a");
}

// ===== panel b =====
const pb = makePanel("b", [3000, 10000], [-0.015, 3], { left: 54.3, right: 543.3, top: 530, bottom: 1001 });
spectrum(pb, keckSpec, C.purple, 1.1);
spectrum(pb, hetSpec, C.cyan, 1.1);
spectrum(pb, notSpec, C.navy, 1.1);
spectrum(pb, bSN2013cu, C.red, 1.1);
drawAxes(pb, bXTicks, bYTicks, 13, 5, 5, 7);

{
  const g = pb.g, x = pb.x, y = pb.y;
  // H lines
  const hLines = [[4102, 1.89], [4340, 1.60], [4861, 1.29], [6563, 0.89]];
  hLines.forEach(([w, top]) => seg(g, x(w), y(top), x(w), y(0.19), "#444", 0.9));
  seg(g, x(4102), y(0.19), x(6563), y(0.19), "#444", 0.9);
  g.append("text").attr("x", x(5291)).attr("y", y(0.128)).attr("dy", "0.35em")
    .attr("text-anchor", "middle").attr("font-size", L).attr("fill", INK).text("H");
  // He II bracket
  g.append("path").attr("fill", "none").attr("stroke", "#444").attr("stroke-width", 0.9)
    .attr("d", `M${x(4686)},${y(1.53)}V${y(2.30)}H${x(5411)}V${y(1.95)}`);
  rich(g, x(5100), y(2.38), [["He ", L], ["II", R]]).attr("dy", "0.35em");
  // C III / N III
  seg(g, x(4640), y(1.82), x(4640), y(1.74), "#444", 0.9);
  rich(g, x(4241), y(2.61), [["C ", L], ["III", R], ["/N ", L], ["III", R]]).attr("dy", "0.35em");
  g.append("line").attr("x1", x(4271)).attr("y1", y(2.54)).attr("x2", x(4599)).attr("y2", y(1.88))
    .attr("stroke", "#222").attr("stroke-width", 1.2).attr("marker-end", "url(#arrow)");

  legend(g, [["SN 2013cu, 15.5 h", C.red], ["NOT, 3.09 d", C.navy],
    ["HET, 3.23 d", C.cyan], ["Keck I, 6.45 d", C.purple]],
    205, 233, 239, [553, 571.5, 590, 608.5], 13);

  rich(svg, 20, 765, [["Scaled flux", 12.5]].concat(unitLabel(15, 12.5, 8.5)), { rotate: true });
  svg.append("text").attr("x", 8).attr("y", 543).attr("font-size", 19).attr("font-weight", "bold")
    .attr("fill", "#222").text("b");

  // inset
  const box = { left: 370, right: 527.5, top: 620, bottom: 763.5 };
  svg.append("rect").attr("x", box.left).attr("y", box.top)
    .attr("width", box.right - box.left).attr("height", box.bottom - box.top).attr("fill", "#fff");
  const pi = makePanel("inset", [6450, 6650], [3.2, 4.2], box);
  spectrum(pi, keckHalpha, C.purple, 1.1, d3.curveStepAfter);
  drawAxes(pi, insetXTicks, insetYTicks, 10.5, 4, 4);
  rich(pi.g, 420, 746, [["F", 12.5, "it"], ["Hα", 8.5, "sub"], [" = 2.5 × 10", 12.5], ["−16", 8.5, "sup"]], { anchor: "start" });
  rich(svg, 336, 692, [["F", 10, "it"], ["λ", 7, "sub"]].concat(unitLabel(16, 10, 7)), { rotate: true });
}

// ===== panel c =====
const pc = makePanel("c", [4500, 7500], [0.5, 7.3], { left: 51.7, right: 541.3, top: 1052, bottom: 1522 });
{
  const g = pc.g, x = pc.x, y = pc.y;
  // line markers behind the spectra
  const greyV = [4826, 4918, 5064, 5740, 6520, 6896, 7110];
  const tops = [5.5, 5.5, 5.5, 6.5, 6.5, 6.5, 6.5];
  greyV.forEach((w, i) => pc.plot.append("line").attr("x1", x(w)).attr("x2", x(w))
    .attr("y1", y(tops[i])).attr("y2", y(0.5)).attr("stroke", "#b9b9b9").attr("stroke-width", 0.9));
  [4716, 6363].forEach(w => pc.plot.append("line").attr("x1", x(w)).attr("x2", x(w))
    .attr("y1", y(5.0)).attr("y2", y(0.5)).attr("stroke", C.lav).attr("stroke-width", 0.9));
}
spectrum(pc, sn2011dh, C.green, 1.3);
spectrum(pc, sn1993J, C.red, 1.3);
spectrum(pc, cSN2013cu, C.black, 1.3, d3.curveStepAfter);
spectrum(pc, sn2004et, C.blue, 1.3);
drawAxes(pc, cXTicks, cYTicks, 13, 5, 5);

{
  const g = pc.g, x = pc.x, y = pc.y;
  seg(g, x(5740), y(6.5), x(7110), y(6.5), "#8a8a8a", 1.8);
  rich(g, x(6339), y(6.69), [["He ", L], ["I", R]]).attr("dy", "0.35em");
  seg(g, x(4826), y(5.5), x(5064), y(5.5), "#444", 1);
  rich(g, x(4951), y(5.65), [["Fe ", L], ["II", R]]).attr("dy", "0.35em");
  seg(g, x(4716), y(5.0), x(6363), y(5.0), C.lav, 1.6);
  g.append("text").attr("x", x(5557)).attr("y", y(5.19)).attr("dy", "0.35em")
    .attr("text-anchor", "middle").attr("font-size", L).attr("fill", "#b58bd0").text("H");

  legend(g, [["SN 2013cu (IIb)", C.black], ["SN 1993J (IIb)", C.red],
    ["SN 2011dh (IIb)", C.green], ["SN 2004et (II-P)", C.blue]],
    64, 92, 98, [1067, 1083.5, 1100, 1116.5], 13);

  rich(svg, 20, 1287, [["Scaled flux", 12.5]].concat(unitLabel(17, 12.5, 8.5)), { rotate: true });
  svg.append("text").attr("x", 289).attr("y", 1560).attr("text-anchor", "middle")
    .attr("font-size", 12.5).attr("fill", INK).text("Rest wavelength (Å)");
  svg.append("text").attr("x", 8).attr("y", 1061).attr("font-size", 19).attr("font-weight", "bold")
    .attr("fill", "#222").text("c");
}
</script>
</body>
</html>
